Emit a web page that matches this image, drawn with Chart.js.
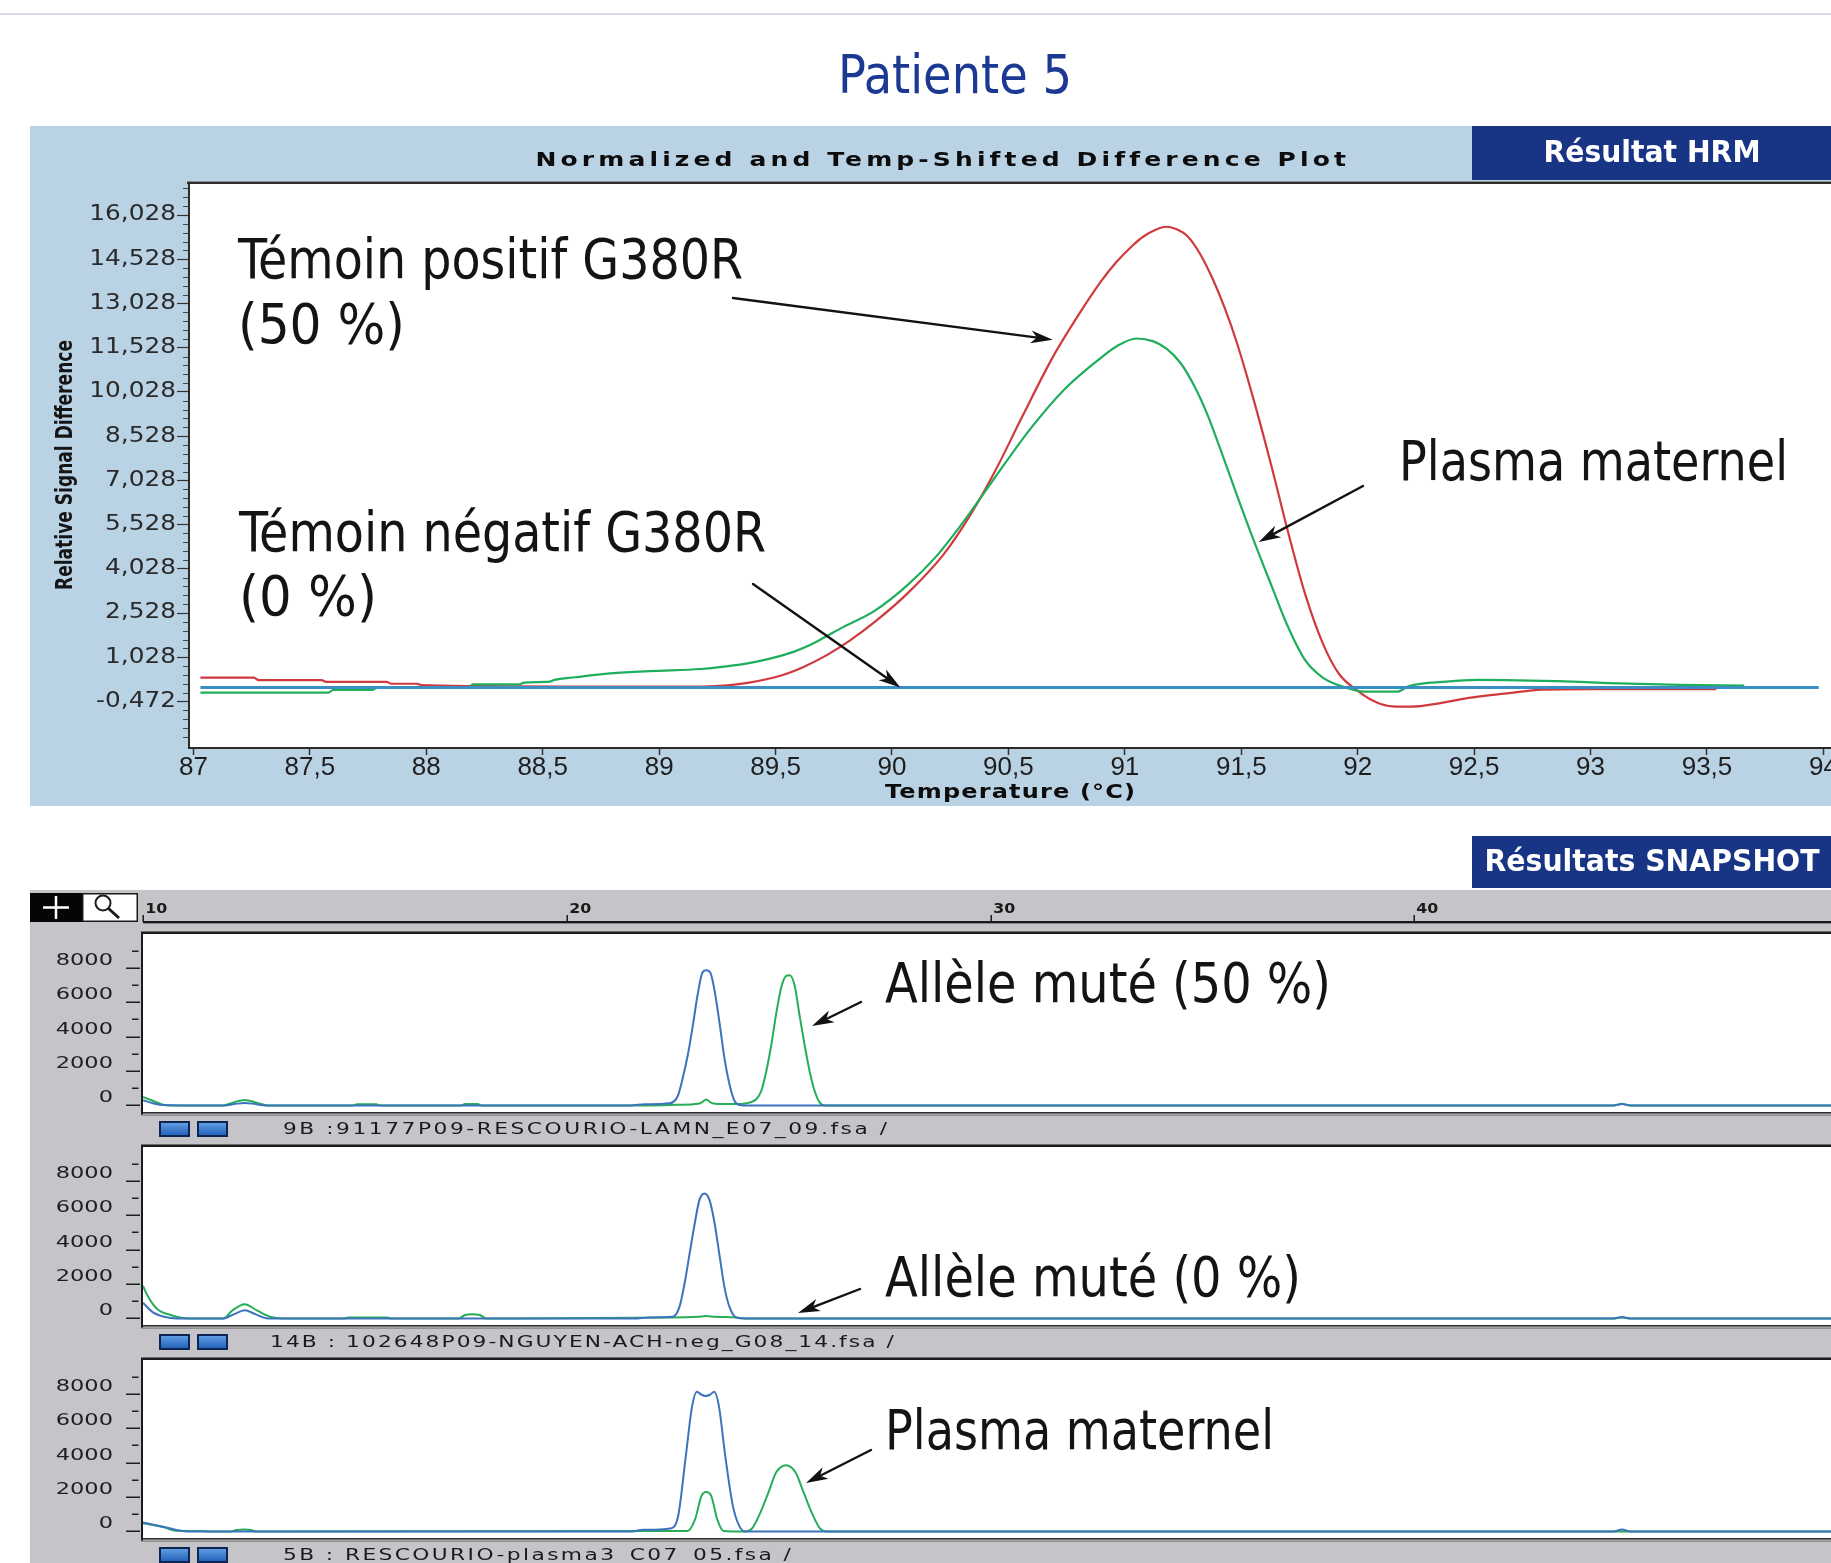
<!DOCTYPE html>
<html>
<head>
<meta charset="utf-8">
<title>Patiente 5</title>
<script src="https://cdn.jsdelivr.net/npm/chart.js@4.4.1/dist/chart.umd.min.js"></script>
<style>
  html, body { margin: 0; padding: 0; background: #fff; }
  body { width: 1831px; height: 1563px; overflow: hidden; position: relative; }
  canvas { position: absolute; display: block; }
</style>
</head>
<body>
<canvas id="decor" width="1831" height="1563" style="left:0;top:0"></canvas>
<canvas id="hrm" width="1840" height="680" style="left:30px;top:126px"></canvas>
<canvas id="snap0" width="1810" height="256" style="left:30px;top:892px"></canvas>
<canvas id="snap1" width="1810" height="256" style="left:30px;top:1105px"></canvas>
<canvas id="snap2" width="1810" height="256" style="left:30px;top:1318px"></canvas>
<script>
// ---------- HRM difference plot ----------
const hrmXTicks = [87, 87.5, 88, 88.5, 89, 89.5, 90, 90.5, 91, 91.5, 92, 92.5, 93, 93.5, 94];
const hrmXLabels = ['87', '87,5', '88', '88,5', '89', '89,5', '90', '90,5', '91', '91,5', '92', '92,5', '93', '93,5', '94'];
const hrmYTicks = [-0.472, 1.028, 2.528, 4.028, 5.528, 7.028, 8.528, 10.028, 11.528, 13.028, 14.528, 16.028];
const hrmYLabels = ['-0,472', '1,028', '2,528', '4,028', '5,528', '7,028', '8,528', '10,028', '11,528', '13,028', '14,528', '16,028'];

// Témoin positif G380R (red)
const hrmPositive = [
  [87.03, 0.34], [87.26, 0.34], [87.28, 0.25], [87.55, 0.25], [87.57, 0.19], [87.83, 0.19], [87.85, 0.13],
  [87.96, 0.13], [87.98, 0.08], [88.2, 0.05], [88.6, 0.03], [89.1, 0.03], [89.24, 0.05], [89.38, 0.16],
  [89.52, 0.4], [89.62, 0.7], [89.72, 1.1], [89.82, 1.6], [89.93, 2.25], [90.07, 3.22], [90.22, 4.5],
  [90.34, 5.9], [90.44, 7.3], [90.56, 9.2], [90.69, 11.2], [90.81, 12.75], [90.9, 13.8], [90.96, 14.4],
  [91.03, 14.97], [91.08, 15.3], [91.13, 15.52], [91.175, 15.63], [91.22, 15.55], [91.27, 15.3],
  [91.32, 14.75], [91.375, 13.9], [91.43, 12.85], [91.48, 11.72], [91.55, 9.85], [91.63, 7.5], [91.7, 5.3],
  [91.775, 3.15], [91.85, 1.5], [91.92, 0.46], [92.0, -0.11], [92.08, -0.5], [92.15, -0.64], [92.23, -0.65],
  [92.355, -0.53], [92.47, -0.36], [92.65, -0.19], [92.79, -0.07], [93.0, -0.05], [93.54, -0.05]
];
// Plasma maternel (green)
const hrmMaternal = [
  [87.03, -0.17], [87.58, -0.17], [87.6, -0.08], [87.77, -0.08], [87.79, 0.0], [88.18, 0.0], [88.2, 0.11],
  [88.4, 0.11], [88.42, 0.17], [88.53, 0.2], [88.55, 0.26], [88.64, 0.35], [88.79, 0.48], [88.96, 0.56],
  [89.18, 0.63], [89.28, 0.71], [89.38, 0.82], [89.48, 0.99], [89.58, 1.22], [89.65, 1.45], [89.72, 1.75],
  [89.79, 2.05], [89.925, 2.6], [90.07, 3.5], [90.19, 4.45], [90.295, 5.5], [90.44, 7.1], [90.59, 8.73],
  [90.74, 10.11], [90.89, 11.14], [90.97, 11.6], [91.05, 11.84], [91.12, 11.75], [91.18, 11.49], [91.24, 11.0],
  [91.3, 10.2], [91.355, 9.25], [91.405, 8.2], [91.48, 6.55], [91.55, 5.06], [91.63, 3.45], [91.7, 2.07],
  [91.775, 0.92], [91.85, 0.34], [91.94, 0.02], [92.03, -0.14], [92.17, -0.14], [92.22, 0.05], [92.38, 0.2],
  [92.51, 0.26], [92.92, 0.2], [93.08, 0.15], [93.38, 0.09], [93.66, 0.065]
];
// Témoin négatif G380R (blue reference line)
const hrmNegative = [[87.03, 0], [93.98, 0]];

// ---------- SNaPshot electropherograms ----------
const sizeTicks = [10, 20, 30, 40];
const sizeLabels = ['10', '20', '30', '40'];
const rfuTicks = [0, 2000, 4000, 6000, 8000];
const rfuLabels = ['0', '2000', '4000', '6000', '8000'];
const rfuMinor = [1000, 3000, 5000, 7000, 9000];
const fileNames = [
  '9B :91177P09-RESCOURIO-LAMN_E07_09.fsa /',
  '14B : 102648P09-NGUYEN-ACH-neg_G08_14.fsa /',
  '5B : RESCOURIO-plasma3_C07_05.fsa /'
];
const snapNotes = ['Allèle muté (50 %)', 'Allèle muté (0 %)', 'Plasma maternel'];

const p1Blue = [
  [10, 300], [10.25, 120], [10.5, 20], [11.0, 0], [11.9, 0], [12.15, 80], [12.4, 150], [12.65, 80], [12.9, 0],
  [21.5, 0], [21.84, 70], [22.43, 128], [22.62, 552], [22.74, 1620], [22.86, 2975], [22.98, 4720], [23.09, 6465],
  [23.2, 7720], [23.29, 7860], [23.39, 7720], [23.49, 6657], [23.61, 4720], [23.72, 2780], [23.84, 1233],
  [23.96, 262], [24.08, 30], [24.3, 0], [44.7, 0], [44.9, 80], [45.1, 0], [50, 0]
];
const p1Green = [
  [10, 490], [10.2, 300], [10.5, 30], [10.8, 0], [11.9, 0], [12.1, 150], [12.4, 320], [12.7, 150], [12.95, 0],
  [14.95, 0], [15.05, 70], [15.5, 70], [15.6, 0], [17.5, 0], [17.6, 80], [17.9, 80], [18.0, 0], [22.0, 0],
  [22.6, 40], [23.1, 100], [23.2, 200], [23.29, 350], [23.38, 200], [23.5, 100], [24.0, 80], [24.31, 165],
  [24.47, 360], [24.59, 843], [24.71, 2005], [24.83, 3560], [24.94, 5300], [25.06, 6850], [25.18, 7530],
  [25.26, 7570], [25.38, 6950], [25.49, 5300], [25.61, 3560], [25.73, 2005], [25.85, 843], [25.97, 165],
  [26.09, 0], [44.7, 0], [44.9, 100], [45.1, 0], [50, 0]
];
const p2Blue = [
  [10, 910], [10.22, 385], [10.5, 100], [10.8, 0], [11.9, 0], [12.15, 250], [12.4, 480], [12.65, 250], [12.95, 0],
  [21.6, 0], [21.95, 58], [22.5, 95], [22.66, 675], [22.78, 2035], [22.9, 3780], [23.02, 5520], [23.13, 6880],
  [23.25, 7270], [23.37, 6880], [23.49, 5520], [23.61, 3580], [23.72, 1840], [23.84, 675], [24.0, 58],
  [24.2, 0], [44.7, 0], [44.9, 80], [45.1, 0], [50, 0]
];
const p2Green = [
  [10, 1900], [10.08, 1450], [10.32, 580], [10.67, 190], [11.12, 0], [11.9, 0], [12.1, 450], [12.4, 830],
  [12.7, 450], [13.0, 100], [13.3, 0], [14.73, 0], [14.85, 55], [15.75, 55], [15.87, 0], [17.45, 0],
  [17.6, 200], [17.77, 250], [17.95, 200], [18.1, 0], [22.5, 50], [23.1, 100], [23.29, 140], [23.5, 100],
  [24.0, 50], [24.2, 0], [44.7, 0], [44.9, 60], [45.1, 0], [50, 0]
];
const p3Blue = [
  [10, 520], [10.5, 260], [11.04, 0], [21.5, 0], [21.79, 95], [22.44, 175], [22.63, 910], [22.81, 4400],
  [22.96, 7300], [23.07, 8120], [23.18, 7950], [23.28, 7880], [23.38, 7950], [23.48, 8120], [23.59, 7300],
  [23.74, 4400], [23.92, 1490], [24.07, 325], [24.2, 0], [44.7, 0], [44.9, 110], [45.1, 0], [50, 0]
];
const p3Green = [
  [10, 480], [10.5, 240], [10.77, 40], [11.36, 30], [11.6, 0], [12.08, 0], [12.2, 80], [12.4, 110], [12.55, 80],
  [12.66, 0], [22.85, 30], [23.03, 715], [23.18, 2070], [23.29, 2300], [23.41, 2070], [23.55, 715], [23.7, 30],
  [24.2, 0], [24.39, 230], [24.57, 1100], [24.76, 2270], [24.94, 3430], [25.18, 3855], [25.4, 3430],
  [25.59, 2270], [25.78, 1100], [25.96, 230], [26.15, 0], [50, 0]
];

const blueTraces = [p1Blue, p2Blue, p3Blue];
const greenTraces = [p1Green, p2Green, p3Green];

// ---------- helpers ----------
const toXY = arr => arr.map(p => ({ x: p[0], y: p[1] }));

// Draws text fitted to a width: horizontal scaling, optionally combined with letter spacing.
function fitText(ctx, str, x, y, o) {
  ctx.save();
  ctx.font = o.font;
  ctx.fillStyle = o.color || '#111';
  ctx.textBaseline = o.baseline || 'alphabetic';
  ctx.textAlign = 'left';
  const hasLS = 'letterSpacing' in ctx;
  if (hasLS) ctx.letterSpacing = '0px';
  const w = ctx.measureText(str).width;
  const align = o.align || 'left';
  let sx, total;
  if (o.spread && o.width && hasLS) {
    sx = o.scale || 1;
    const n = Array.from(str).length;
    const ls = (o.width / sx - w) / Math.max(n - 1, 1);
    ctx.letterSpacing = ls.toFixed(2) + 'px';
    total = o.width;
  } else {
    sx = o.width ? o.width / w : (o.scale || 1);
    total = w * sx;
  }
  const x0 = align === 'center' ? x - total / 2 : align === 'right' ? x - total : x;
  ctx.translate(x0, y);
  ctx.scale(sx, 1);
  ctx.fillText(str, 0, 0);
  ctx.restore();
}

function arrow(ctx, x1, y1, x2, y2) {
  const a = Math.atan2(y2 - y1, x2 - x1), c = Math.cos(a), s = Math.sin(a);
  const L = 22, H = 6.5;
  ctx.save();
  ctx.strokeStyle = '#121212';
  ctx.fillStyle = '#121212';
  ctx.lineWidth = 2.4;
  ctx.lineCap = 'round';
  ctx.beginPath();
  ctx.moveTo(x1, y1);
  ctx.lineTo(x2 - c * L * 0.7, y2 - s * L * 0.7);
  ctx.stroke();
  ctx.beginPath();
  ctx.moveTo(x2, y2);
  ctx.lineTo(x2 - c * L - s * H, y2 - s * L + c * H);
  ctx.lineTo(x2 - c * L * 0.72, y2 - s * L * 0.72);
  ctx.lineTo(x2 - c * L + s * H, y2 - s * L - c * H);
  ctx.closePath();
  ctx.fill();
  ctx.restore();
}

const NOTE_FONT = '56px "DejaVu Sans Condensed", "DejaVu Sans", sans-serif';

// ---------- page decoration ----------
(function drawDecor() {
  const d = document.getElementById('decor').getContext('2d');
  d.fillStyle = '#dcdce8';
  d.fillRect(0, 13, 1831, 2);

  fitText(d, 'Patiente 5', 955, 92.5, {
    font: '54px "DejaVu Sans Condensed", "DejaVu Sans", sans-serif', color: '#1b3893', width: 234, align: 'center'
  });

  // HRM panel background and badge
  d.fillStyle = '#b9d2e4';
  d.fillRect(30, 126, 1801, 680);
  d.fillStyle = '#173584';
  d.fillRect(1472, 126, 359, 54);
  fitText(d, 'Résultat HRM', 1652, 162, {
    font: 'bold 30px "DejaVu Sans", sans-serif', color: '#ffffff', width: 217, align: 'center'
  });
  fitText(d, 'Normalized and Temp-Shifted Difference Plot', 940, 165.5, {
    font: 'bold 20px "DejaVu Sans", sans-serif', color: '#0c0c0c', width: 809, scale: 1.25, align: 'center', spread: true
  });
  d.save();
  d.translate(66, 465);
  d.rotate(-Math.PI / 2);
  fitText(d, 'Relative Signal Difference', 0, 0, {
    font: 'bold 23px "Liberation Sans Narrow", "DejaVu Sans Condensed", sans-serif', color: '#151515',
    width: 250, align: 'center', baseline: 'middle'
  });
  d.restore();

  // SNaPshot badge and window
  d.fillStyle = '#173584';
  d.fillRect(1472, 836, 359, 52);
  fitText(d, 'Résultats SNAPSHOT', 1652, 871, {
    font: 'bold 31px "DejaVu Sans", sans-serif', color: '#ffffff', width: 335, align: 'center'
  });
  d.fillStyle = '#c5c5c9';
  d.fillRect(30, 890, 1801, 673);

  // toolbar: cross and magnifier buttons
  d.fillStyle = '#050505';
  d.fillRect(30, 893, 52, 29);
  d.strokeStyle = '#ffffff';
  d.lineWidth = 2.5;
  d.beginPath();
  d.moveTo(43, 907.5); d.lineTo(69, 907.5);
  d.moveTo(56, 896); d.lineTo(56, 919);
  d.stroke();
  d.fillStyle = '#ffffff';
  d.fillRect(82, 893, 56, 29);
  d.strokeStyle = '#1a1a1a';
  d.lineWidth = 1.5;
  d.strokeRect(82.75, 893.75, 54.5, 27.5);
  d.lineWidth = 2;
  d.beginPath();
  d.arc(103, 903, 7.5, 0, Math.PI * 2);
  d.stroke();
  d.lineWidth = 3;
  d.beginPath();
  d.moveTo(108.5, 908.5); d.lineTo(119, 918);
  d.stroke();
})();

// ---------- HRM chart ----------
const hrmPlugin = {
  id: 'hrmFrame',
  beforeDraw(chart) {
    const { ctx, chartArea: a } = chart;
    ctx.save();
    ctx.fillStyle = '#ffffff';
    ctx.fillRect(a.left, a.top, a.right - a.left, a.bottom - a.top);
    ctx.fillStyle = '#8c8c8c';
    ctx.fillRect(a.left - 2, a.top - 3, a.right - a.left + 2, 1);
    ctx.fillStyle = '#2e2e2e';
    ctx.fillRect(a.left - 2, a.top - 2, a.right - a.left + 2, 2);
    ctx.restore();
  },
  afterDraw(chart) {
    const { ctx, chartArea: a, scales } = chart;
    const xs = scales.x, ys = scales.y;
    // minor ticks on the value axis
    ctx.save();
    ctx.strokeStyle = '#444';
    ctx.lineWidth = 1;
    for (let i = 0; ; i++) {
      const v = -1.972 + i * 0.3;
      if (v > ys.max) break;
      if (i % 5 === 0) continue;
      const py = Math.round(ys.getPixelForValue(v)) + 0.5;
      ctx.beginPath();
      ctx.moveTo(a.left - 6, py);
      ctx.lineTo(a.left, py);
      ctx.stroke();
    }
    ctx.restore();

    // value-axis labels, slightly widened like the instrument software
    hrmYTicks.forEach((v, i) => {
      fitText(ctx, hrmYLabels[i], a.left - 13, ys.getPixelForValue(v), {
        font: '21px "DejaVu Sans", sans-serif', color: '#2a2a2a', scale: 1.18, align: 'right', baseline: 'middle'
      });
    });

    fitText(ctx, 'Temperature (°C)', 980, 672, {
      font: 'bold 20px "DejaVu Sans", sans-serif', color: '#0c0c0c', width: 250, scale: 1.2, align: 'center', spread: true
    });

    // annotations
    fitText(ctx, 'Témoin positif G380R', 208, 152, { font: NOTE_FONT, color: '#141414', width: 505 });
    fitText(ctx, '(50 %)', 208, 217, { font: NOTE_FONT, color: '#141414', width: 167 });
    arrow(ctx, 703, 172, xs.getPixelForValue(90.69), ys.getPixelForValue(11.8));

    fitText(ctx, 'Témoin négatif G380R', 209, 425, { font: NOTE_FONT, color: '#141414', width: 527 });
    fitText(ctx, '(0 %)', 209, 489, { font: NOTE_FONT, color: '#141414', width: 138 });
    arrow(ctx, 723, 458, xs.getPixelForValue(90.036), ys.getPixelForValue(0));

    fitText(ctx, 'Plasma maternel', 1369, 354, { font: NOTE_FONT, color: '#141414', width: 389 });
    arrow(ctx, 1333, 360, xs.getPixelForValue(91.575), ys.getPixelForValue(4.94));
  }
};

new Chart(document.getElementById('hrm'), {
  type: 'line',
  data: {
    datasets: [
      { label: 'Témoin négatif G380R', data: toXY(hrmNegative), borderColor: '#3a8ec6', borderWidth: 3 },
      { label: 'Plasma maternel', data: toXY(hrmMaternal), borderColor: '#1fae5b', borderWidth: 2.2 },
      { label: 'Témoin positif G380R', data: toXY(hrmPositive), borderColor: '#d03a3e', borderWidth: 2.2 }
    ]
  },
  options: {
    responsive: false,
    animation: false,
    devicePixelRatio: 1,
    layout: { padding: { top: 58, left: 0, right: 0, bottom: 0 } },
    plugins: { legend: { display: false }, tooltip: { enabled: false } },
    elements: { point: { radius: 0 }, line: { cubicInterpolationMode: 'monotone', borderJoinStyle: 'round' } },
    scales: {
      x: {
        type: 'linear', min: 86.981, max: 94.2,
        afterBuildTicks: s => { s.ticks = hrmXTicks.map(v => ({ value: v })); },
        afterFit: s => { s.height = 58; },
        ticks: {
          autoSkip: false, maxRotation: 0, padding: -3, color: '#1e1e1e',
          font: { family: '"Liberation Sans", Arial, sans-serif', size: 26 },
          callback: (v, i) => hrmXLabels[i]
        },
        grid: { drawOnChartArea: false, tickLength: 7, tickColor: '#333', tickWidth: 1.5 },
        border: { color: '#2a2a2a', width: 2 }
      },
      y: {
        type: 'linear', min: -2.05, max: 17.08,
        afterBuildTicks: s => { s.ticks = hrmYTicks.map(v => ({ value: v })); },
        afterFit: s => { s.width = 159; },
        ticks: {
          autoSkip: false, padding: 1, color: 'rgba(0,0,0,0)',
          font: { family: '"DejaVu Sans", sans-serif', size: 21 },
          callback: (v, i) => hrmYLabels[i]
        },
        grid: { drawOnChartArea: false, tickLength: 12, tickColor: '#333', tickWidth: 1.2 },
        border: { color: '#2a2a2a', width: 2 }
      }
    }
  },
  plugins: [hrmPlugin]
});

// ---------- SNaPshot charts ----------
const snapArrows = [
  [831, 110, 782, 134],
  [830, 184, 768, 208],
  [841, 132, 776, 165]
];
const snapNoteBaselines = [110, 191, 131];
const snapNoteWidths = [446, 416, 389];
const fileTextX = [253, 240, 253];
const fileTextW = [604, 624, 508];

function blueButton(ctx, x, y) {
  const g = ctx.createLinearGradient(x, y, x, y + 15);
  g.addColorStop(0, '#6aa6e8');
  g.addColorStop(1, '#1f5fb8');
  ctx.fillStyle = '#0d2550';
  ctx.fillRect(x, y, 31, 16);
  ctx.fillStyle = g;
  ctx.fillRect(x + 2, y + 2, 27, 12);
}

function snapPlugin(idx) {
  return {
    id: 'snapPanel',
    beforeDraw(chart) {
      const { ctx, chartArea: a, width } = chart;
      ctx.save();
      ctx.fillStyle = '#ffffff';
      ctx.fillRect(a.left, a.top, width - a.left, a.bottom - a.top);
      ctx.fillStyle = '#6e6e6e';
      ctx.fillRect(a.left - 2, a.top - 3, width - a.left + 2, 1);
      ctx.fillStyle = '#1c1c1c';
      ctx.fillRect(a.left - 2, a.top - 2, width - a.left + 2, 2);
      ctx.fillRect(a.left - 2, a.top - 2, 2, a.bottom - a.top + 5);
      ctx.fillStyle = '#2a2a2a';
      ctx.fillRect(a.left, a.bottom, width - a.left, 1.5);
      ctx.fillStyle = '#7c7c7c';
      ctx.fillRect(a.left - 2, a.bottom + 2.5, width - a.left + 2, 1.2);
      ctx.restore();
    },
    afterDraw(chart) {
      const { ctx, chartArea: a, scales, width } = chart;
      const xs = scales.x, ys = scales.y;
      ctx.save();
      ctx.strokeStyle = '#1e1e1e';
      ctx.lineWidth = 1.5;
      rfuTicks.forEach(v => {
        const py = Math.round(ys.getPixelForValue(v)) + 0.25;
        ctx.beginPath(); ctx.moveTo(96, py); ctx.lineTo(110, py); ctx.stroke();
      });
      rfuMinor.forEach(v => {
        const py = Math.round(ys.getPixelForValue(v)) + 0.25;
        ctx.beginPath(); ctx.moveTo(102, py); ctx.lineTo(108.5, py); ctx.stroke();
      });
      ctx.restore();
      rfuTicks.forEach((v, i) => {
        fitText(ctx, rfuLabels[i], 83, ys.getPixelForValue(v) - 7, {
          font: '15px "DejaVu Sans", sans-serif', color: '#1e1e1e', scale: 1.5, align: 'right', baseline: 'middle'
        });
      });

      // size ruler above the first trace
      if (idx === 0) {
        ctx.save();
        ctx.fillStyle = '#1a1a1a';
        ctx.fillRect(a.left, 29, width - a.left, 2);
        ctx.fillStyle = '#8a8a8a';
        ctx.fillRect(a.left, 31, width - a.left, 1);
        ctx.strokeStyle = '#1a1a1a';
        ctx.lineWidth = 1.5;
        sizeTicks.forEach((v, i) => {
          const px = Math.round(xs.getPixelForValue(v)) + 0.25;
          ctx.beginPath(); ctx.moveTo(px, 23); ctx.lineTo(px, 30); ctx.stroke();
          fitText(ctx, sizeLabels[i], px + 2, 21, {
            font: 'bold 14px "DejaVu Sans", sans-serif', color: '#1a1a1a', width: 22
          });
        });
        ctx.restore();
      }

      // file label bar
      blueButton(ctx, 129, a.bottom + 9);
      blueButton(ctx, 167, a.bottom + 9);
      fitText(ctx, fileNames[idx], fileTextX[idx], a.bottom + 21.5, {
        font: '15px "DejaVu Sans", sans-serif', color: '#1a1a1a', width: fileTextW[idx], scale: 1.45, spread: true
      });

      // annotation
      fitText(ctx, snapNotes[idx], 855, snapNoteBaselines[idx], { font: NOTE_FONT, color: '#141414', width: snapNoteWidths[idx] });
      const ar = snapArrows[idx];
      arrow(ctx, ar[0], ar[1], ar[2], ar[3]);
    }
  };
}

[0, 1, 2].forEach(idx => {
  new Chart(document.getElementById('snap' + idx), {
    type: 'line',
    data: {
      datasets: [
        { label: 'bleu', data: toXY(blueTraces[idx]), borderColor: '#3b73bd', borderWidth: 2 },
        { label: 'vert', data: toXY(greenTraces[idx]), borderColor: '#27ad57', borderWidth: 2 }
      ]
    },
    options: {
      responsive: false,
      animation: false,
      devicePixelRatio: 1,
      layout: { padding: { left: 113, right: 2, top: 42, bottom: 36 } },
      plugins: { legend: { display: false }, tooltip: { enabled: false } },
      elements: { point: { radius: 0 }, line: { cubicInterpolationMode: 'monotone', borderJoinStyle: 'round' } },
      scales: {
        x: { type: 'linear', min: 10, max: 50, display: false },
        y: { type: 'linear', min: -380, max: 9970, display: false }
      }
    },
    plugins: [snapPlugin(idx)]
  });
});
</script>
</body>
</html>
